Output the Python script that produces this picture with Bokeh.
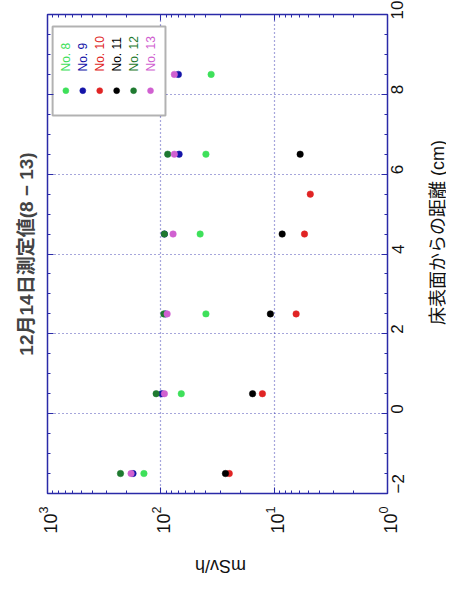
import math
from bokeh.plotting import figure
from bokeh.layouts import column, row
from bokeh.models import (Range1d, LinearAxis, LogAxis, SingleIntervalTicker,
                          LogTicker, BoxAnnotation)
from bokeh.core.properties import value
from bokeh.embed import file_html
from bokeh.resources import INLINE

# ---------------- data ----------------
title_text = "12月14日測定値(8 − 13)"
dist_label = "床表面からの距離 (cm)"
dose_label = "mSv/h"
series_names = ["No. 8", "No. 9", "No. 10", "No. 11", "No. 12", "No. 13"]
series_colors = ["#3ee05a", "#1414a8", "#e02424", "#000000", "#1f7a30", "#d060d0"]

dist_8 = [-1.5, 0.5, 2.5, 4.5, 6.5, 8.5]
dose_8 = [141, 66, 40, 45, 40, 36]
dist_9 = [-1.5, 0.5, 2.5, 4.5, 6.5, 8.5]
dose_9 = [176, 98, 91, 93, 69, 70]
dist_10 = [-1.5, 0.5, 2.5, 4.5, 5.5]
dose_10 = [24.9, 12.7, 6.4, 5.4, 4.8]
dist_11 = [-1.5, 0.5, 2.5, 4.5, 6.5]
dose_11 = [26.9, 15.5, 10.8, 8.5, 5.9]
dist_12 = [-1.5, 0.5, 2.5, 4.5, 6.5]
dose_12 = [227, 110, 94, 93, 87]
dist_13 = [-1.5, 0.5, 2.5, 4.5, 6.5, 8.5]
dose_13 = [183, 93, 88, 78, 76, 76]

dose_range = (1000, 1)     # reversed log axis (left -> right)
dist_range = (-2, 10)
dist_tick_step = 2

series_dist = [dist_8, dist_9, dist_10, dist_11, dist_12, dist_13]
series_dose = [dose_8, dose_9, dose_10, dose_11, dose_12, dose_13]

# ---------------- style ----------------
AX = "#2a2aa8"
GRID = "#3a3ab0"
FONT = "'Liberation Sans', 'Noto Sans CJK JP', sans-serif"

TOTAL_W, TOTAL_H = 446, 587
MAIN_W, MAIN_H = 415, 545
RIGHT_W = TOTAL_W - MAIN_W
BOTTOM_H = TOTAL_H - MAIN_H

p = figure(width=MAIN_W, height=MAIN_H, x_axis_type="log",
           x_range=Range1d(*dose_range), y_range=Range1d(*dist_range),
           output_backend="svg", toolbar_location=None,
           x_axis_location="below", y_axis_location="right",
           title=title_text, title_location="left",
           min_border_left=47, min_border_right=MAIN_W - 387,
           min_border_top=14, min_border_bottom=MAIN_H - 493)

p.background_fill_color = "white"
p.border_fill_color = "white"
p.outline_line_color = AX
p.outline_line_width = 1.5

p.title.text_font = FONT
p.title.text_font_size = "19px"
p.title.text_font_style = "bold"
p.title.align = "center"
p.title.standoff = 21

def style_axis(ax):
    ax.axis_line_color = AX
    ax.major_tick_line_color = AX
    ax.minor_tick_line_color = AX
    ax.major_tick_in = 6
    ax.major_tick_out = 0
    ax.minor_tick_in = 3
    ax.minor_tick_out = 0
    ax.major_label_text_font = FONT
    ax.major_label_text_color = "#111111"

# bottom: dose axis
xa = p.xaxis[0]
style_axis(xa)
xa.ticker = LogTicker(num_minor_ticks=10)
xa.major_label_orientation = math.pi / 2
xa.major_label_text_font_size = "18px"
xa.major_label_standoff = 13

# right: distance axis
ya = p.yaxis[0]
style_axis(ya)
ya.ticker = SingleIntervalTicker(interval=dist_tick_step, num_minor_ticks=4)
ya.major_label_orientation = math.pi / 2
ya.major_label_text_font_size = "17px"
ya.major_label_standoff = 10

# mirrored tick-only axes
top_ax = LogAxis(ticker=LogTicker(num_minor_ticks=10))
style_axis(top_ax)
top_ax.major_label_text_font_size = "1px"
top_ax.major_label_text_color = None
top_ax.major_label_standoff = 0
p.add_layout(top_ax, "above")

left_ax = LinearAxis(ticker=SingleIntervalTicker(interval=dist_tick_step, num_minor_ticks=4))
style_axis(left_ax)
left_ax.major_label_text_font_size = "1px"
left_ax.major_label_text_color = None
left_ax.major_label_standoff = 0
p.add_layout(left_ax, "left")

for g in p.grid:
    g.grid_line_color = GRID
    g.grid_line_dash = "1 3"
    g.grid_line_width = 1.2
    g.grid_line_alpha = 0.9

# helpers: fraction of the plot frame -> data coordinates
def xv(frac):
    lo, hi = math.log10(dose_range[0]), math.log10(dose_range[1])
    return 10 ** (lo + (hi - lo) * frac)

def yv(frac):
    return dist_range[0] + (dist_range[1] - dist_range[0]) * frac

# ---------------- data marks ----------------
for d, v, c in zip(series_dist, series_dose, series_colors):
    p.scatter(x=v, y=d, size=6.5, fill_color=c, line_color=c, line_width=0.5)

# ---------------- legend (rotated, drawn manually) ----------------
box = BoxAnnotation(left=xv(0.015), right=xv(0.347), top=yv(0.975), bottom=yv(0.789),
                    fill_color="white", fill_alpha=1.0, line_color="black",
                    line_width=2, level="underlay")
p.add_layout(box)

col_fracs = [0.054 + 0.0498 * i for i in range(len(series_names))]
leg_x = [xv(f) for f in col_fracs]
p.scatter(x=leg_x, y=[yv(0.841)] * len(leg_x), size=6,
          fill_color=series_colors, line_color=series_colors, line_width=0.5)
p.text(x=leg_x, y=[yv(0.881)] * len(leg_x), text=series_names,
       angle=math.pi / 2, text_color=series_colors,
       text_font=value(FONT), text_font_size="12px",
       text_align="left", text_baseline="middle")

# ---------------- rotated axis titles in their own strips ----------------
def label_strip(w, h):
    f = figure(width=w, height=h, x_range=Range1d(0, w), y_range=Range1d(0, h),
               x_axis_type=None, y_axis_type=None, output_backend="svg",
               toolbar_location=None, min_border=0)
    f.outline_line_color = None
    f.background_fill_color = "white"
    f.border_fill_color = "white"
    f.grid.visible = False
    return f

right_strip = label_strip(RIGHT_W, MAIN_H)
right_strip.text(x=[RIGHT_W - 9], y=[MAIN_H - 248], text=[dist_label],
                 angle=math.pi / 2, text_font=value(FONT), text_font_size="18px",
                 text_color="#111111", text_align="center", text_baseline="middle")

bottom_strip = label_strip(TOTAL_W, BOTTOM_H)
bottom_strip.text(x=[220], y=[BOTTOM_H - (565 - MAIN_H)], text=[dose_label],
                  angle=math.pi, text_font=value(FONT), text_font_size="18px",
                  text_color="#111111", text_align="center", text_baseline="middle")

layout = column(row(p, right_strip, spacing=0), bottom_strip, spacing=0)

open("out.html", "w").write(file_html(layout, INLINE))
